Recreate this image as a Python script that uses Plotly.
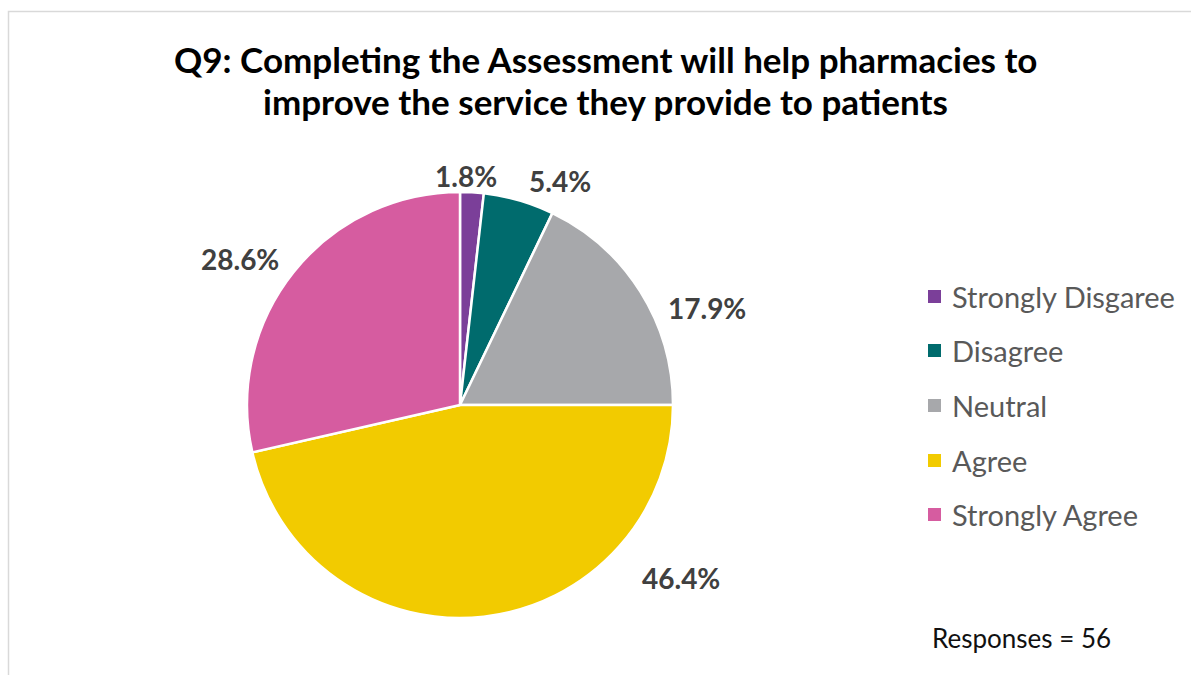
import plotly.graph_objects as go

# Survey responses for Q9
categories = ["Strongly Disgaree", "Disagree", "Neutral", "Agree", "Strongly Agree"]
counts = [1, 3, 10, 26, 16]
colors = ["#7B3F99", "#006B6D", "#A7A8AB", "#F2CB00", "#D65CA0"]
title_lines = [
    "Q9: Completing the Assessment will help pharmacies to",
    "improve the service they provide to patients",
]

W, H = 1191, 675
total = sum(counts)
pct_text = [f"{100 * c / total:.1f}%" for c in counts]

# pixel helpers for layout placement
def px(x):
    return x / W

def py(y):
    return 1 - y / H

cx, cy, r = 460, 405, 213

fig = go.Figure(
    go.Pie(
        labels=categories,
        values=counts,
        sort=False,
        direction="clockwise",
        rotation=0,
        marker=dict(colors=colors, line=dict(color="white", width=2.5)),
        textinfo="none",
        hoverinfo="label+percent",
        showlegend=False,
        domain=dict(x=[px(cx - r), px(cx + r)], y=[py(cy + r), py(cy - r)]),
    )
)

annotations = []

# two-line title
for line, ty in zip(title_lines, [59, 101]):
    annotations.append(dict(
        x=px(605), y=py(ty), xref="paper", yref="paper",
        text=f"<b>{line}</b>", showarrow=False, xanchor="center", yanchor="middle",
        font=dict(family="Lato", size=35, color="#000000"),
    ))

# data labels (best-fit placement around the pie)
label_anchor = [(466, 176), (560, 181), (707, 308), (681, 578), (240, 259)]
for txt, (lx, ly) in zip(pct_text, label_anchor):
    annotations.append(dict(
        x=px(lx), y=py(ly), xref="paper", yref="paper",
        text=f"<b>{txt}</b>", showarrow=False, xanchor="center", yanchor="middle",
        font=dict(family="Lato", size=28, color="#404040"),
    ))

# legend
shapes = []
leg_y = [297, 351, 406, 461, 515]
for name, col, ly in zip(categories, colors, leg_y):
    shapes.append(dict(
        type="rect", xref="paper", yref="paper",
        x0=px(928), x1=px(941), y0=py(ly + 6), y1=py(ly - 7),
        fillcolor=col, line=dict(width=0),
    ))
    annotations.append(dict(
        x=px(950), y=py(ly - 1), xref="paper", yref="paper",
        text=name, showarrow=False, xanchor="left", yanchor="middle",
        font=dict(family="Lato", size=29, color="#595959"),
    ))

annotations.append(dict(
    x=px(930), y=py(638), xref="paper", yref="paper",
    text=f"Responses = {total}", showarrow=False, xanchor="left", yanchor="middle",
    font=dict(family="Lato", size=26, color="#111111"),
))

# chart frame
shapes.append(dict(
    type="rect", xref="paper", yref="paper",
    x0=px(8.5), x1=1.02, y0=-0.02, y1=py(11.5),
    line=dict(color="#D9D9D9", width=1.5), fillcolor="rgba(0,0,0,0)", layer="below",
))

fig.update_layout(
    width=W, height=H,
    margin=dict(l=0, r=0, t=0, b=0),
    paper_bgcolor="white", plot_bgcolor="white",
    annotations=annotations,
    shapes=shapes,
)

fig.write_html("out.html")
